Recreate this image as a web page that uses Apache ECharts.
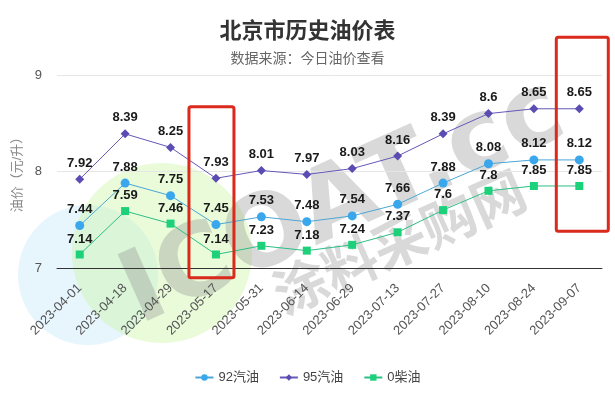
<!DOCTYPE html>
<html>
<head>
<meta charset="utf-8">
<script src="https://cdn.jsdelivr.net/npm/echarts@6/dist/echarts.min.js"></script>
<style>
  html, body { margin: 0; padding: 0; background: #fff; }
  #chart { width: 615px; height: 397px; }
</style>
</head>
<body>
<div id="chart"></div>
<script>
var dates = ["2023-04-01", "2023-04-18", "2023-04-29", "2023-05-17", "2023-05-31", "2023-06-14",
  "2023-06-29", "2023-07-13", "2023-07-27", "2023-08-10", "2023-08-24", "2023-09-07"];
var gas92 = [7.44, 7.88, 7.75, 7.45, 7.53, 7.48, 7.54, 7.66, 7.88, 8.08, 8.12, 8.12];
var gas95 = [7.92, 8.39, 8.25, 7.93, 8.01, 7.97, 8.03, 8.16, 8.39, 8.6, 8.65, 8.65];
var diesel0 = [7.14, 7.59, 7.46, 7.14, 7.23, 7.18, 7.24, 7.37, 7.6, 7.8, 7.85, 7.85];
var yTicks = { min: 7, max: 9, interval: 1 };

var font = "'Liberation Sans', 'Noto Sans CJK SC', sans-serif";
var chart = echarts.init(document.getElementById("chart"));

function lineSeries(name, data, color, lineColor, symbol, size) {
  return {
    name: name,
    type: "line",
    data: data,
    symbol: symbol,
    symbolSize: size,
    itemStyle: { color: color },
    lineStyle: { color: lineColor, width: 1 },
    label: {
      show: true,
      position: "top",
      color: "#1a1a1a",
      fontWeight: "bold",
      fontSize: 13,
      fontFamily: font,
    },
    z: 3,
  };
}

chart.setOption({
  animation: false,
  textStyle: { fontFamily: font },
  title: {
    text: "北京市历史油价表",
    subtext: "数据来源：今日油价查看",
    left: "center",
    top: 16,
    itemGap: 9,
    textStyle: { fontSize: 22, fontWeight: "bold", color: "#333", fontFamily: font },
    subtextStyle: { fontSize: 14, color: "#666", fontFamily: font },
  },
  grid: { left: 57, right: 13, top: 75, bottom: 129 },
  legend: {
    bottom: 8,
    left: "center",
    itemGap: 20,
    itemWidth: 18,
    itemHeight: 8,
    textStyle: { color: "#444", fontSize: 13 },
    data: ["92汽油", "95汽油", "0柴油"],
  },
  xAxis: {
    type: "category",
    data: dates,
    boundaryGap: true,
    axisLine: { lineStyle: { color: "#333" } },
    axisTick: { show: false },
    axisLabel: { rotate: 45, color: "#555", fontSize: 13, margin: 18, interval: 0 },
  },
  yAxis: {
    type: "value",
    min: yTicks.min,
    max: yTicks.max,
    interval: yTicks.interval,
    name: "油价（元/升）",
    nameLocation: "middle",
    nameGap: 30,
    nameTextStyle: { color: "#888", fontSize: 13 },
    axisLabel: { color: "#555", fontSize: 13, margin: 15 },
    splitLine: { lineStyle: { color: "#e6e6e6" } },
  },
  series: [
    lineSeries("92汽油", gas92, "#3aa6ec", "#4aa6d6", "circle", 9),
    lineSeries("95汽油", gas95, "#5a4cb2", "#6358b8", "diamond", 9),
    lineSeries("0柴油", diesel0, "#1cd17a", "#2cbf85", "rect", 8),
  ],
});

// 红框标注
function boxAt(cat, top, bottom, dl, dr) {
  var p1 = chart.convertToPixel({ gridIndex: 0 }, [cat, top]);
  var p2 = chart.convertToPixel({ gridIndex: 0 }, [cat, bottom]);
  return {
    type: "rect",
    shape: { x: p1[0] + dl, y: p1[1], width: dr - dl, height: p2[1] - p1[1], r: 2 },
    style: { fill: "none", stroke: "#d92a1c", lineWidth: 3 },
    z: 10,
  };
}

chart.setOption({
  graphic: [
    // 背景水印
    { type: "circle", shape: { cx: 88, cy: 275, r: 70 }, style: { fill: "rgba(185,225,250,0.35)" }, z: -10, silent: true },
    { type: "circle", shape: { cx: 162, cy: 253, r: 90 }, style: { fill: "rgba(200,245,160,0.4)" }, z: -10, silent: true },
    {
      type: "text", x: 108, y: 255, rotation: 0.42, silent: true, z: -5,
      style: { text: "ICOAT.cc", font: "bold 100px 'DejaVu Sans', sans-serif", fill: "rgba(140,140,140,0.33)", textBaseline: "bottom" },
    },
    {
      type: "text", x: 265, y: 272, rotation: 0.42, silent: true, z: -5,
      style: { text: "涂料采购网", font: "bold 54px 'Noto Sans CJK SC', sans-serif", fill: "rgba(140,140,140,0.33)", textBaseline: "bottom" },
    },
    boxAt("2023-05-17", 8.67, 6.9, -27, 18),
    boxAt("2023-09-07", 9.39, 7.38, -23, 29),
  ],
});
</script>
</body>
</html>
